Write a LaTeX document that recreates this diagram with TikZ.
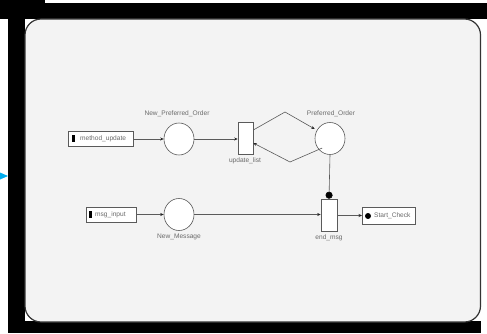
\documentclass[tikz,border=0pt]{standalone}
\usepackage{fontspec}
\setmainfont{Liberation Sans}
\usetikzlibrary{shapes.geometric,arrows.meta}
\definecolor{panel}{HTML}{F3F3F3}
\definecolor{ink}{HTML}{5A5A5A}
\definecolor{txt}{HTML}{6A6A6A}
\tikzset{
  place/.style={ellipse,draw=ink,fill=white,line width=0.6pt,minimum width=30pt,minimum height=32pt,inner sep=0pt},
  trans/.style={rectangle,draw=ink,fill=white,line width=0.6pt,minimum width=15pt,minimum height=32pt,inner sep=0pt},
  iobox/.style={rectangle,draw=ink,fill=white,line width=0.6pt,minimum height=15pt,inner sep=0pt,anchor=west},
  lbl/.style={font=\fontsize{6.6}{7.5}\selectfont,text=txt,inner sep=0pt},
  arc/.style={draw=ink,line width=0.6pt,-{Stealth[length=3.5pt,width=3pt,color=black!85]}},
  dotarc/.style={draw=ink,line width=0.6pt,-{Circle[length=7pt,color=black]}},
}
\begin{document}
\begin{tikzpicture}[x=1pt,y=-1pt]
\useasboundingbox (0,0) rectangle (487,334);
% frame
\fill[white] (0,0) rectangle (487,334);
\fill[black] (0,0) rectangle (45,19);
\fill[black] (0,3) rectangle (487,19);
\fill[black] (0,0) rectangle (8,16);
\fill[black] (8,0) rectangle (25,333);
\fill[black] (8,321) rectangle (481,333);
\draw[fill=panel,draw=black!80,line width=1.2pt,rounded corners=16pt] (25,19) rectangle (480.5,322);
\fill[cyan] (0,172.5) -- (8,176) -- (0,179.5) -- cycle;
% nodes
\node[iobox,minimum width=65pt] (mu) at (68,139) {};
\fill[black] ([xshift=4pt]mu.west) ++(0,-3.5) rectangle ++(2.5,7);
\node[lbl,anchor=west] (mut) at (80,139) {method\_update};
\node[place] (npo) at (179,139) {};
\node[lbl] (npol) at (177,113.5) {New\_Preferred\_Order};
\node[trans] (ul) at (245.5,138) {};
\node[lbl] (ull) at (245,161) {update\_list};
\node[place] (po) at (330,138.5) {};
\node[lbl] (pol) at (331,113.5) {Preferred\_Order};
\coordinate (top) at (285,112);
\coordinate (bot) at (290,162);
\node[iobox,minimum width=50pt] (mi) at (86,214.5) {};
\fill[black] ([xshift=3pt]mi.west) ++(0,-3.5) rectangle ++(2.5,7);
\node[lbl,anchor=west] (mit) at (95,214.5) {msg\_input};
\node[place] (nm) at (179,214.5) {};
\node[lbl] (nml) at (179,237) {New\_Message};
\node[trans,minimum width=16pt] (em) at (329,215) {};
\node[lbl] (eml) at (329,237.5) {end\_msg};
\node[iobox,minimum width=53pt,minimum height=17pt] (sc) at (362,215.5) {};
\fill[black] (368,216) circle (3pt);
\node[lbl,anchor=west] (sct) at (374,215.5) {Start\_Check};
% arcs
\draw[arc] (mu.east) -- (npo.west);
\draw[arc] (npo.east) -- (ul.west|-npo.east);
\draw[arc] (ul.east|-0,130) -- (top) -- (po.west|-0,129) ;
\draw[arc] (po.south west) ++(3,-2) -- (bot) -- (ul.east|-0,143);
\draw[dotarc] (po.south) -- (em.north);
\draw[arc] (mi.east) -- (nm.west);
\draw[arc] (nm.east) -- (em.west|-nm.east);
\draw[arc] (em.east|-sc.west) -- (sc.west);
\end{tikzpicture}
\end{document}
